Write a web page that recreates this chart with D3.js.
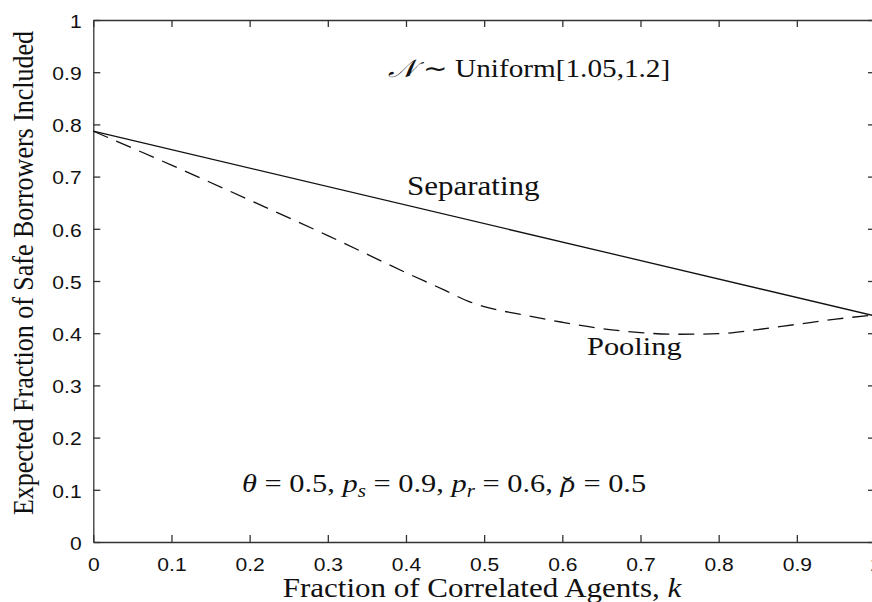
<!DOCTYPE html>
<html>
<head>
<meta charset="utf-8">
<script src="https://cdn.jsdelivr.net/npm/d3@7"></script>
<style>
  body { margin: 0; background: #fff; }
  svg { display: block; }
  .axis path, .axis line { stroke: #333; stroke-width: 1.3; }
  .axis text { font-family: "Liberation Sans", Arial, sans-serif; font-size: 18px; fill: #111; }
  .serif { font-family: "Liberation Serif", "Times New Roman", serif; fill: #111; }
</style>
</head>
<body>
<div class="container"></div>
<script>
// Config
var WIDTH = 872;
var HEIGHT = 602;
var SX = 1.17; // the original figure is stretched sideways a bit

// Ticks
var X_TICKS = [0, 0.1, 0.2, 0.3, 0.4, 0.5, 0.6, 0.7, 0.8, 0.9, 1];
var X_TICK_LABELS = ['0', '0.1', '0.2', '0.3', '0.4', '0.5', '0.6', '0.7', '0.8', '0.9', '1'];
var Y_TICKS = [0, 0.1, 0.2, 0.3, 0.4, 0.5, 0.6, 0.7, 0.8, 0.9, 1];
var Y_TICK_LABELS = ['0', '0.1', '0.2', '0.3', '0.4', '0.5', '0.6', '0.7', '0.8', '0.9', '1'];

// Separating (straight line)
var SEP_K = [0, 1];
var SEP_Y = [0.787, 0.433];

// Pooling (dashed)
var POOL_K = [0, 0.1, 0.2, 0.3, 0.4, 0.45, 0.48, 0.5, 0.55, 0.6, 0.65, 0.7, 0.75, 0.8, 0.85, 0.9, 0.95, 1];
var POOL_Y = [0.787, 0.722, 0.655, 0.587, 0.516, 0.482, 0.461, 0.451, 0.435, 0.421, 0.409, 0.401, 0.398, 0.399, 0.407, 0.417, 0.427, 0.435];

var margin = {top: 20, right: -3, bottom: 60, left: 93.3};
var width = WIDTH - margin.left - margin.right;
var height = HEIGHT - margin.top - margin.bottom;

var svg = d3.select('.container').append('svg')
    .attr('width', WIDTH)
    .attr('height', HEIGHT);

var g = svg.append('g')
    .attr('transform', 'translate(' + margin.left + ',' + margin.top + ')');

var xScale = d3.scaleLinear().domain([0, 1]).range([0, width]);
var yScale = d3.scaleLinear().domain([0, 1]).range([height, 0]);

// Axes: ticks point inward on all four sides
g.append('g')
    .attr('class', 'axis')
    .attr('transform', 'translate(0,' + height + ')')
    .call(d3.axisBottom(xScale).tickValues(X_TICKS)
      .tickFormat(function(d, i) { return X_TICK_LABELS[i]; })
      .tickSize(-7).tickSizeOuter(0).tickPadding(16))
    .selectAll('text').attr('transform', 'scale(' + SX + ',1)');

g.append('g')
    .attr('class', 'axis')
    .call(d3.axisLeft(yScale).tickValues(Y_TICKS)
      .tickFormat(function(d, i) { return Y_TICK_LABELS[i]; })
      .tickSize(-7).tickSizeOuter(0).tickPadding(10))
    .selectAll('text').attr('transform', 'scale(' + SX + ',1)').attr('dy', '0.4em');

g.append('g')
    .attr('class', 'axis')
    .call(d3.axisTop(xScale).tickValues(X_TICKS).tickFormat('')
      .tickSize(-7).tickSizeOuter(0));

g.append('g')
    .attr('class', 'axis')
    .attr('transform', 'translate(' + width + ',0)')
    .call(d3.axisRight(yScale).tickValues(Y_TICKS).tickFormat('')
      .tickSize(-7).tickSizeOuter(0));

// Lines
var line = d3.line()
    .x(function(d) { return xScale(d[0]); })
    .y(function(d) { return yScale(d[1]); });

g.append('path')
    .datum(SEP_K.map(function(k, i) { return [k, SEP_Y[i]]; }))
    .attr('fill', 'none')
    .attr('stroke', '#111')
    .attr('stroke-width', 1.3)
    .attr('d', line);

g.append('path')
    .datum(POOL_K.map(function(k, i) { return [k, POOL_Y[i]]; }))
    .attr('fill', 'none')
    .attr('stroke', '#111')
    .attr('stroke-width', 1.3)
    .attr('stroke-dasharray', '16,9')
    .attr('d', line.curve(d3.curveMonotoneX));

// Serif labels, stretched like the original
function label(x, y, size, anchor, extra) {
  return svg.append('text')
      .attr('class', 'serif')
      .attr('transform', 'translate(' + x + ',' + y + ') scale(' + SX + ',1)' + (extra || ''))
      .attr('font-size', size)
      .attr('text-anchor', anchor);
}

label(482, 597, 26.5, 'middle')
  .call(function(t) {
    t.append('tspan').text('Fraction of Correlated Agents, ');
    t.append('tspan').attr('font-style', 'italic').text('k');
  });

label(33, 273, 26, 'middle', ' rotate(-90)')
  .text('Expected Fraction of Safe Borrowers Included');

label(407, 195, 26.5, 'start').text('Separating');
label(587, 355, 26, 'start').text('Pooling');

label(529, 77, 25, 'middle')
  .call(function(t) {
    t.append('tspan').attr('font-style', 'italic').text('\u{1D4A9}');
    t.append('tspan').text(' \u223C Uniform[1.05,1.2]');
  });

label(242, 492, 26, 'start')
  .call(function(t) {
    t.append('tspan').attr('font-style', 'italic').text('\u03B8');
    t.append('tspan').text(' = 0.5, ');
    t.append('tspan').attr('font-style', 'italic').text('p');
    t.append('tspan').attr('font-style', 'italic').attr('font-size', 18).attr('dy', 5).text('s');
    t.append('tspan').attr('dy', -5).text(' = 0.9, ');
    t.append('tspan').attr('font-style', 'italic').text('p');
    t.append('tspan').attr('font-style', 'italic').attr('font-size', 18).attr('dy', 5).text('r');
    t.append('tspan').attr('dy', -5).text(' = 0.6, ');
    t.append('tspan').attr('font-style', 'italic').text('\u03C1');
    t.append('tspan').attr('dx', -11).attr('dy', 2).text('\u02D8');
    t.append('tspan').attr('dx', 3).attr('dy', -2).text(' = 0.5');
  });
</script>
</body>
</html>
